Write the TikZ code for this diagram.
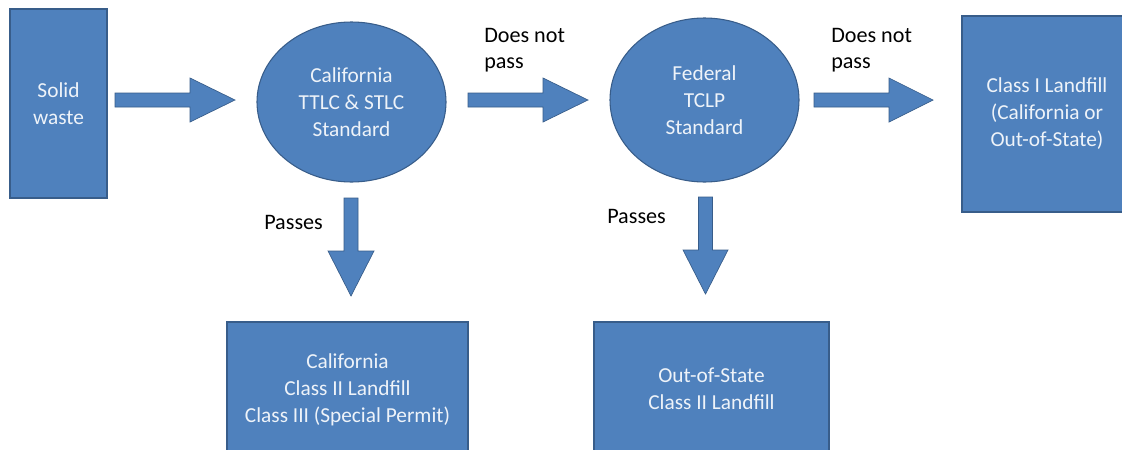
\documentclass[tikz,border=0pt]{standalone}
\usepackage{fontspec}
\setmainfont{Carlito}
\usetikzlibrary{shapes.geometric}
\newdimen\pxu \pxu=0.75pt
\definecolor{boxblue}{HTML}{4F81BD}
\definecolor{boxedge}{HTML}{385D8A}
\definecolor{boxtext}{HTML}{EEF3F9}
\begin{document}
\begin{tikzpicture}[x=0.75pt,y=-0.75pt,
  blockbox/.style={rectangle, fill=boxblue, draw=boxedge, line width=0.8pt, text=boxtext, align=center, font=\fontsize{16}{20.25}\selectfont, inner sep=0pt},
  blockoval/.style={ellipse, fill=boxblue, draw=boxedge, line width=0.8pt, text=boxtext, align=center, font=\fontsize{16}{20.25}\selectfont, inner sep=0pt},
  blockarrow/.style={fill=boxblue, draw=boxedge, line width=0.5pt, line join=miter},
  lbl/.style={anchor=west, align=left, text=black, font=\fontsize{16.6}{19.5}\selectfont, inner sep=0pt}]
\useasboundingbox (0,0) rectangle (1122,450);
\clip (0,0) rectangle (1122,450);
\fill[white] (0,0) rectangle (1122,450);
% nodes
\node[blockbox, minimum width=97\pxu, minimum height=189\pxu] (solid) at (58.5,103.5) {Solid\\waste};
\node[blockoval, minimum width=189\pxu, minimum height=160\pxu] (cal) at (351.5,102) {California\\TTLC \& STLC\\Standard};
\node[blockoval, minimum width=189\pxu, minimum height=164\pxu] (fed) at (704.5,100) {Federal\\TCLP\\Standard};
\node[blockbox, minimum width=170\pxu, minimum height=196\pxu] (cone) at (1047,114) {Class I Landfill\\(California or\\Out-of-State)};
\node[blockbox, minimum width=241\pxu, minimum height=136\pxu] (ctwo) at (347.5,390) {California\\Class II Landfill\\Class III (Special Permit)};
\node[blockbox, minimum width=235\pxu, minimum height=134\pxu] (cout) at (711.5,389) {Out-of-State\\Class II Landfill};
% block arrows
\draw[blockarrow] (115,93) -- (190,93) -- (190,78) -- (235,100) -- (190,122) -- (190,107) -- (115,107) -- cycle;
\draw[blockarrow] (468,93) -- (543,93) -- (543,78) -- (588,100) -- (543,122) -- (543,107) -- (468,107) -- cycle;
\draw[blockarrow] (814,93) -- (889,93) -- (889,78) -- (933,100) -- (889,122) -- (889,107) -- (814,107) -- cycle;
\draw[blockarrow] (344,198) -- (358,198) -- (358,251) -- (374,251) -- (351,296) -- (328,251) -- (344,251) -- cycle;
\draw[blockarrow] (698.5,197) -- (712.5,197) -- (712.5,250) -- (728,250) -- (705.5,294) -- (683,250) -- (698.5,250) -- cycle;
% labels
\node[lbl] (dnp1) at (484,50) {Does not\\pass};
\node[lbl] (dnp2) at (831,50) {Does not\\pass};
\node[lbl] (ps1) at (264,222) {Passes};
\node[lbl] (ps2) at (607,216) {Passes};
\end{tikzpicture}
\end{document}
